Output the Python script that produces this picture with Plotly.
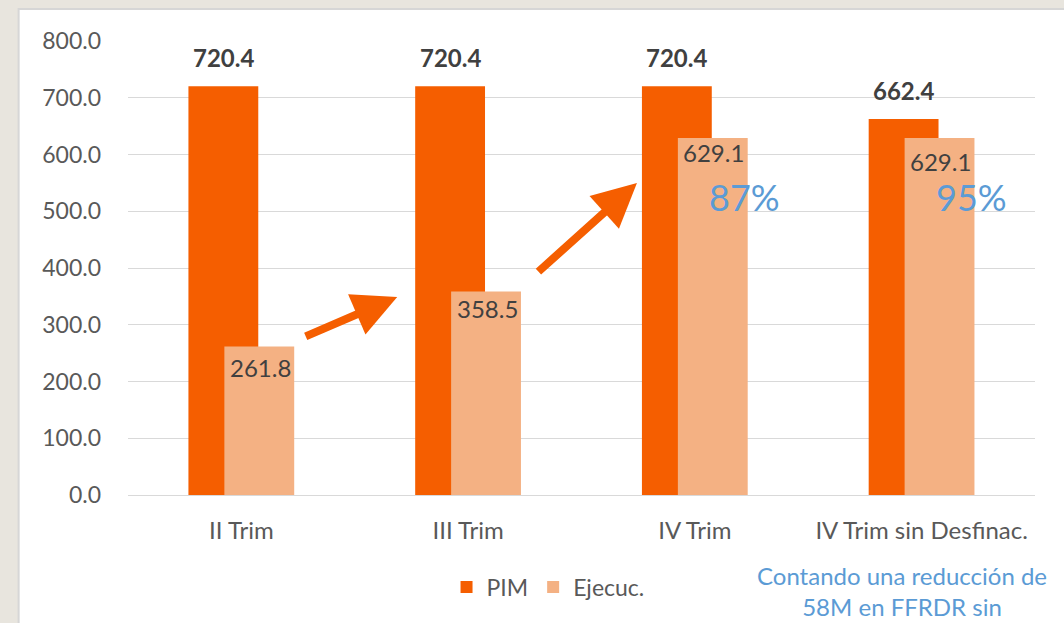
import plotly.graph_objects as go

categories = ["II Trim", "III Trim", "IV Trim", "IV Trim sin Desfinac."]
pim = [720.4, 720.4, 720.4, 662.4]
ejecuc = [261.8, 358.5, 629.1, 629.1]
y_ticks = [0, 100, 200, 300, 400, 500, 600, 700, 800]
note_text = "Contando una reducción de<br>58M en FFRDR sin"

# styles
C_PIM = "#F55E00"
C_EJE = "#F4B183"
C_BLUE = "#5B9BD5"
FONT = "Lato"
BAR_W = 0.308
PIM_OFF = -0.2335
EJE_OFF = -0.075
ejec_label_shift = [-21, -17, -15, -24]

# plot geometry (px)
W, H = 1064, 623
L, R, T, B = 127.5, 28.5, 41, 128
PW, PH = W - L - R, H - T - B


def px2paper(x, y):
    return (x - L) / PW, (H - B - y) / PH


fig = go.Figure()
fig.add_trace(go.Bar(x=categories, y=pim, name="PIM", marker_color=C_PIM,
                     width=BAR_W, offset=PIM_OFF, marker_line_width=0))
fig.add_trace(go.Bar(x=categories, y=ejecuc, name="Ejecuc.", marker_color=C_EJE,
                     width=BAR_W, offset=EJE_OFF, marker_line_width=0))

ann = []
pim_center_shift = (PIM_OFF + BAR_W / 2) * PW / len(categories)
eje_center_shift = (EJE_OFF + BAR_W / 2) * PW / len(categories)
for i, c in enumerate(categories):
    ann.append(dict(x=c, y=pim[i], text=f"<b>{pim[i]:.1f}</b>", showarrow=False,
                    xshift=pim_center_shift, yshift=29,
                    font=dict(family=FONT, size=24, color="#404040")))
    ann.append(dict(x=c, y=ejecuc[i], text=f"{ejecuc[i]:.1f}", showarrow=False,
                    xshift=eje_center_shift + 1, yshift=ejec_label_shift[i],
                    font=dict(family=FONT, size=24, color="#404040")))

# percentages (ejecución / PIM) for last two categories
for i in (2, 3):
    pct = round(ejecuc[i] / pim[i] * 100)
    ann.append(dict(x=categories[i], y=525, text=f"{pct}%", showarrow=False,
                    xshift=50, font=dict(family=FONT, size=36, color=C_BLUE)))

# arrows (tail -> head) in px
arrows = [((304, 337), (397, 297)), ((537, 273), (637, 183))]
for (tx, ty), (hx, hy) in arrows:
    hxp, hyp = px2paper(hx, hy)
    ann.append(dict(xref="paper", yref="paper", axref="pixel", ayref="pixel",
                    x=hxp, y=hyp, ax=tx - hx, ay=ty - hy, showarrow=True, text="",
                    arrowhead=2, arrowsize=1.1, arrowwidth=8, arrowcolor=C_PIM))

nx, ny = px2paper(755, 591)
ann.append(dict(xref="paper", yref="paper", x=nx, y=ny, text=note_text,
                showarrow=False, align="center", xanchor="left", yanchor="middle",
                font=dict(family=FONT, size=24, color=C_BLUE)))

p0 = px2paper(18, 9)
p1 = px2paper(1100, 660)
shapes = [dict(type="rect", xref="paper", yref="paper", x0=p0[0], y0=p1[1],
               x1=p1[0], y1=p0[1], fillcolor="white",
               line=dict(color="#D6D6D6", width=2), layer="below")]

lx, ly = px2paper(548, 587)
fig.update_layout(
    width=W, height=H,
    margin=dict(l=L, r=R, t=T, b=B, pad=0),
    paper_bgcolor="#E8E5DE", plot_bgcolor="rgba(0,0,0,0)",
    barmode="overlay",
    annotations=ann, shapes=shapes,
    showlegend=True,
    legend=dict(orientation="h", x=lx, y=ly, xanchor="center", yanchor="middle",
                font=dict(family=FONT, size=23, color="#595959"),
                bgcolor="rgba(0,0,0,0)", itemwidth=30, tracegroupgap=0),
    font=dict(family=FONT, color="#595959"),
)
fig.update_xaxes(type="category", showgrid=False, showline=True, linecolor="#D9D9D9",
                 linewidth=1, ticks="", tickfont=dict(family=FONT, size=24, color="#595959"),
                 ticklabelstandoff=14, zeroline=False)
fig.update_yaxes(range=[0, 800], tickvals=y_ticks, tickformat=".1f", showgrid=True,
                 gridcolor="#D9D9D9", gridwidth=1, zeroline=False, showline=False,
                 ticks="", tickfont=dict(family=FONT, size=23, color="#595959"),
                 ticklabelstandoff=26)

fig.write_html("out.html", config={"displayModeBar": False},
               post_script="document.body.style.margin='0px';document.body.style.overflow='hidden';")
